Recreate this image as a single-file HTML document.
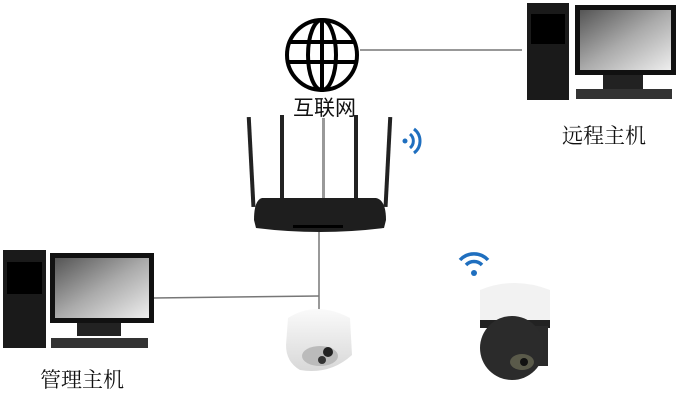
<!DOCTYPE html>
<html><head><meta charset="utf-8"><style>
body{margin:0;width:681px;height:402px;background:#fff;overflow:hidden;position:relative;font-family:"Liberation Serif","Noto Serif CJK SC",serif}
.t{position:absolute;font-size:21px;color:#111}
</style></head><body>
<svg width="681" height="402" style="position:absolute;left:0;top:0">
<defs>
<linearGradient id="scr" x1="0" y1="0" x2="1" y2="1"><stop offset="0" stop-color="#555"/><stop offset="0.5" stop-color="#aaa"/><stop offset="1" stop-color="#eee"/></linearGradient>
<linearGradient id="dome" x1="0" y1="0" x2="0" y2="1"><stop offset="0" stop-color="#fafafa"/><stop offset="1" stop-color="#d8d8d8"/></linearGradient>
</defs>
<line x1="360" y1="50" x2="522" y2="50" stroke="#777" stroke-width="1.5"/>
<line x1="319" y1="232" x2="319" y2="310" stroke="#777" stroke-width="1.5"/>
<line x1="153" y1="298" x2="319" y2="296" stroke="#777" stroke-width="1.5"/>
<g stroke="#000" stroke-width="4" fill="none">
<circle cx="322" cy="55" r="35"/>
<ellipse cx="322" cy="55" rx="14" ry="35"/>
<line x1="322" y1="20" x2="322" y2="90"/>
<line x1="290" y1="42" x2="354" y2="42"/>
<line x1="288" y1="62" x2="356" y2="62"/>
</g>
<g fill="#222">
<rect x="249" y="117" width="4" height="90" transform="rotate(-3 251 160)"/>
<rect x="280" y="115" width="4" height="90"/>
<rect x="322" y="118" width="3" height="80" fill="#999"/>
<rect x="354" y="115" width="4" height="90"/>
<rect x="386" y="117" width="4" height="90" transform="rotate(3 388 160)"/>
<path d="M262 198 L376 198 Q386 200 386 220 L384 228 Q320 236 256 228 L254 220 Q254 200 262 198Z" fill="#1e1e1e"/>
<rect x="293" y="225" width="50" height="3" fill="#000"/>
</g>
<g fill="none" stroke="#1f6fbf" stroke-width="3">
<circle cx="405" cy="141" r="2.5" fill="#1f6fbf" stroke="none"/>
<path d="M410 134 A9 9 0 0 1 410 148"/>
<path d="M414 129 A15 15 0 0 1 414 153"/>
</g>
<g fill="none" stroke="#1f6fbf" stroke-width="3.5">
<circle cx="474" cy="273" r="3" fill="#1f6fbf" stroke="none"/>
<path d="M466 265 A11 11 0 0 1 482 265"/>
<path d="M460 260 A19 19 0 0 1 488 260"/>
</g>
<g>
<rect x="527" y="3" width="42" height="97" fill="#1a1a1a"/>
<rect x="531" y="14" width="34" height="30" fill="#000"/>
<rect x="575" y="5" width="101" height="70" fill="#111"/>
<rect x="580" y="10" width="91" height="60" fill="url(#scr)"/>
<rect x="603" y="75" width="40" height="14" fill="#222"/>
<rect x="576" y="89" width="96" height="10" fill="#333"/>
</g>
<g>
<rect x="3" y="250" width="43" height="98" fill="#1a1a1a"/>
<rect x="7" y="262" width="35" height="32" fill="#000"/>
<rect x="50" y="253" width="104" height="70" fill="#111"/>
<rect x="55" y="258" width="94" height="60" fill="url(#scr)"/>
<rect x="77" y="323" width="44" height="13" fill="#222"/>
<rect x="51" y="338" width="97" height="10" fill="#333"/>
</g>
<g>
<path d="M288 318 Q316 300 350 318 L352 355 Q330 375 300 370 Q286 362 286 345Z" fill="url(#dome)"/>
<ellipse cx="320" cy="356" rx="18" ry="10" fill="#bbb"/>
<circle cx="328" cy="352" r="5" fill="#222"/>
<circle cx="322" cy="360" r="4" fill="#333"/>
</g>
<g>
<path d="M480 290 Q514 276 550 290 L550 326 L480 326Z" fill="#f2f2f2"/>
<rect x="480" y="320" width="70" height="8" fill="#222"/>
<rect x="530" y="326" width="18" height="40" fill="#2a2a2a"/>
<circle cx="512" cy="348" r="32" fill="#2b2b2b"/>
<ellipse cx="522" cy="362" rx="12" ry="8" fill="#5a5a4a"/>
<circle cx="524" cy="362" r="4" fill="#111"/>
</g>
</svg>
<div class="t" style="left:293px;top:92px;font-family:'Liberation Sans','Noto Sans CJK SC',sans-serif">互联网</div>
<div class="t" style="left:562px;top:120px">远程主机</div>
<div class="t" style="left:40px;top:364px">管理主机</div>
</body></html>
